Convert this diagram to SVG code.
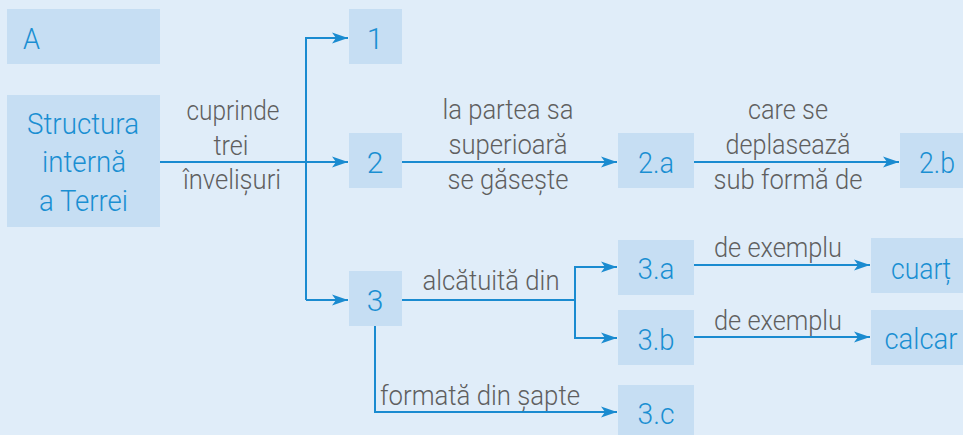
<svg xmlns="http://www.w3.org/2000/svg" width="963" height="435" viewBox="0 0 963 435">
<defs>
<marker id="ah" markerUnits="userSpaceOnUse" markerWidth="17" markerHeight="12" refX="16" refY="6" orient="auto">
<path d="M0,0.5 L16,6 L0,11.5 L4,6 z" fill="#1a8bd0"/>
</marker>
<style>
.box{fill:#c6def3}
.bt{font-family:Roboto,"Liberation Sans",sans-serif;font-weight:300;font-size:30px;fill:#1a8fd2;text-anchor:middle}
.gt{font-family:Roboto,"Liberation Sans",sans-serif;font-weight:300;font-size:27px;fill:#5f5f5f;text-anchor:middle}
.ln{fill:none;stroke:#1a8bd0;stroke-width:2}
.ar{marker-end:url(#ah)}
</style>
</defs>
<rect width="963" height="435" fill="#e0edf9"/>
<g id="connectors">
<path class="ln" d="M160,162 H306"/>
<path class="ln ar" d="M306,300 V38 H348"/>
<path class="ln ar" d="M306,162 H348"/>
<path class="ln ar" d="M306,300 H348"/>
<path class="ln ar" d="M402,162 H617"/>
<path class="ln ar" d="M694,162 H899"/>
<path class="ln" d="M402,300 H575"/>
<path class="ln ar" d="M575,300 V267 H617"/>
<path class="ln ar" d="M575,300 V338 H617"/>
<path class="ln ar" d="M375,326 V412 H617"/>
<path class="ln ar" d="M694,265 H870"/>
<path class="ln ar" d="M694,337 H870"/>
<text class="gt" x="233" y="120" textLength="93" lengthAdjust="spacingAndGlyphs">cuprinde</text>
<text class="gt" x="231" y="155" textLength="35" lengthAdjust="spacingAndGlyphs">trei</text>
<text class="gt" x="232" y="189" textLength="98" lengthAdjust="spacingAndGlyphs">învelișuri</text>
<text class="gt" x="508" y="119" textLength="131" lengthAdjust="spacingAndGlyphs">la partea sa</text>
<text class="gt" x="508" y="154" textLength="119" lengthAdjust="spacingAndGlyphs">superioară</text>
<text class="gt" x="508" y="189" textLength="121" lengthAdjust="spacingAndGlyphs">se găsește</text>
<text class="gt" x="788" y="119" textLength="80" lengthAdjust="spacingAndGlyphs">care se</text>
<text class="gt" x="788" y="154" textLength="125" lengthAdjust="spacingAndGlyphs">deplasează</text>
<text class="gt" x="788" y="189" textLength="149" lengthAdjust="spacingAndGlyphs">sub formă de</text>
<text class="gt" x="491" y="290" textLength="137" lengthAdjust="spacingAndGlyphs">alcătuită din</text>
<text class="gt" x="778" y="257" textLength="128" lengthAdjust="spacingAndGlyphs">de exemplu</text>
<text class="gt" x="778" y="330" textLength="128" lengthAdjust="spacingAndGlyphs">de exemplu</text>
<text class="gt" x="380" y="405" style="text-anchor:start" textLength="200" lengthAdjust="spacingAndGlyphs">formată din șapte</text>
</g>
<g id="nA"><rect class="box" x="7" y="9" width="153" height="55"/><text class="bt" x="23" y="49" style="text-anchor:start" textLength="17" lengthAdjust="spacingAndGlyphs">A</text></g>
<g id="nStruct"><rect class="box" x="7" y="95" width="153" height="132"/>
<text class="bt" x="83" y="134" textLength="112" lengthAdjust="spacingAndGlyphs">Structura</text>
<text class="bt" x="84" y="172" textLength="84" lengthAdjust="spacingAndGlyphs">internă</text>
<text class="bt" x="83.5" y="211" textLength="89" lengthAdjust="spacingAndGlyphs">a Terrei</text></g>
<g id="n1"><rect class="box" x="349" y="9" width="53" height="55"/><text class="bt" x="375" y="49">1</text></g>
<g id="n2"><rect class="box" x="349" y="133" width="53" height="55"/><text class="bt" x="375" y="173">2</text></g>
<g id="n3"><rect class="box" x="349" y="271" width="53" height="55"/><text class="bt" x="375" y="311">3</text></g>
<g id="n2a"><rect class="box" x="618" y="133" width="76" height="55"/><text class="bt" x="656" y="173" textLength="36" lengthAdjust="spacingAndGlyphs">2.a</text></g>
<g id="n2b"><rect class="box" x="900" y="133" width="63" height="55"/><text class="bt" x="937" y="173" textLength="36" lengthAdjust="spacingAndGlyphs">2.b</text></g>
<g id="n3a"><rect class="box" x="618" y="240" width="76" height="55"/><text class="bt" x="656" y="279" textLength="37" lengthAdjust="spacingAndGlyphs">3.a</text></g>
<g id="n3b"><rect class="box" x="618" y="310" width="76" height="55"/><text class="bt" x="656" y="350" textLength="37" lengthAdjust="spacingAndGlyphs">3.b</text></g>
<g id="n3c"><rect class="box" x="618" y="385" width="76" height="50"/><text class="bt" x="656" y="424" textLength="37" lengthAdjust="spacingAndGlyphs">3.c</text></g>
<g id="ncuart"><rect class="box" x="871" y="238" width="92" height="55"/><text class="bt" x="921" y="279" textLength="60" lengthAdjust="spacingAndGlyphs">cuarț</text></g>
<g id="ncalcar"><rect class="box" x="871" y="310" width="92" height="55"/><text class="bt" x="921" y="349" textLength="73" lengthAdjust="spacingAndGlyphs">calcar</text></g>
</svg>
